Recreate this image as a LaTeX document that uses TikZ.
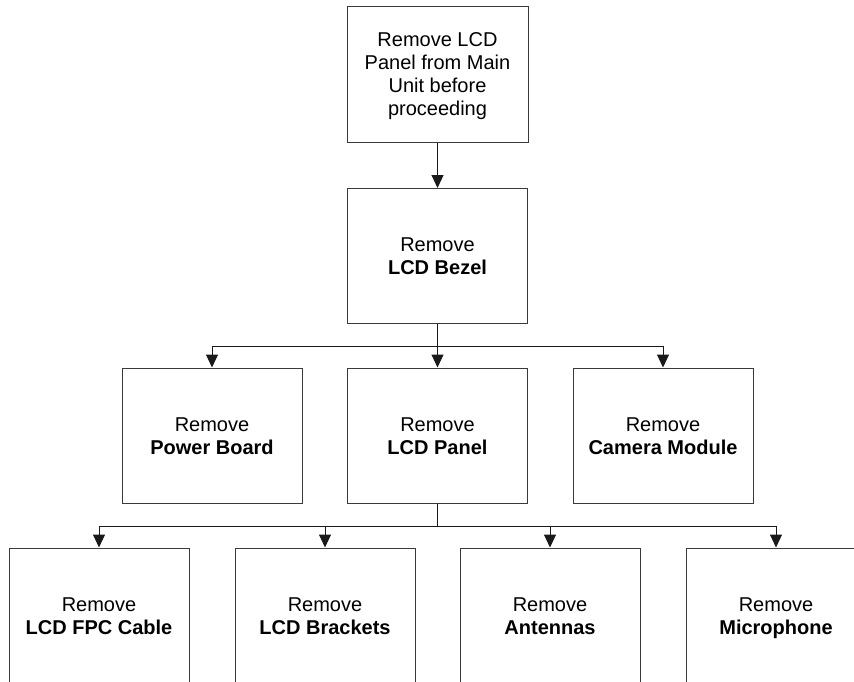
\documentclass[tikz,border=0pt]{standalone}
\usepackage{fontspec}
\setmainfont{Liberation Sans}
\usepackage{tikz}
\usetikzlibrary{arrows.meta,positioning}
\definecolor{boxline}{HTML}{3A3A3A}
\definecolor{linkline}{HTML}{1A1A1A}
\newcommand{\capstrut}{\rule{0pt}{9.4pt}}
\newcommand{\descstrut}{\rule[-2.2pt]{0pt}{2.2pt}}
\tikzset{
  stepbox/.style={rectangle, draw=boxline, fill=white, line width=0.5pt, align=center, font=\fontsize{10}{11.5}\selectfont, minimum width=90pt, minimum height=67.5pt, inner sep=2pt},
  edge/.style={-{Triangle[length=6.5pt, width=6pt]}, line width=0.5pt, draw=linkline},
  busline/.style={line width=0.5pt, draw=linkline}
}

\begin{document}
\begin{tikzpicture}[x=0.5pt, y=-0.5pt]
  \useasboundingbox (0,0) rectangle (854,681);
  \node[stepbox, minimum width=90.5pt, minimum height=68pt] (start) at (437.5,74) {\capstrut Remove LCD\\Panel from Main\\Unit before\\proceeding\descstrut};
  \node[stepbox] (bezel) at (437.5,256) {\capstrut Remove\\\textbf{LCD Bezel}\descstrut};
  \node[stepbox] (power) at (212,435.5) {\capstrut Remove\\\textbf{Power Board}\descstrut};
  \node[stepbox] (panel) at (437.5,435.5) {\capstrut Remove\\\textbf{LCD Panel}\descstrut};
  \node[stepbox] (camera) at (663,435.5) {\capstrut Remove\\\textbf{Camera Module}\descstrut};
  \node[stepbox] (fpc) at (99,615.5) {\capstrut Remove\\\textbf{LCD FPC Cable}\descstrut};
  \node[stepbox] (brackets) at (325,615.5) {\capstrut Remove\\\textbf{LCD Brackets}\descstrut};
  \node[stepbox] (antennas) at (550,615.5) {\capstrut Remove\\\textbf{Antennas}\descstrut};
  \node[stepbox] (mic) at (776,615.5) {\capstrut Remove\\\textbf{Microphone}\descstrut};
  \coordinate (bus1) at (437.5,346);
  \coordinate (bus2) at (437.5,526);
  \draw[edge] (start) -- (bezel);
  % bezel branches
  \draw[busline] (bezel.south) -- (bus1);
  \draw[edge] (bus1) -| (power.north);
  \draw[edge] (bus1) -- (panel.north);
  \draw[edge] (bus1) -| (camera.north);
  % panel branches
  \draw[busline] (panel.south) -- (bus2);
  \draw[edge] (bus2) -| (fpc.north);
  \draw[edge] (bus2) -| (brackets.north);
  \draw[edge] (bus2) -| (antennas.north);
  \draw[edge] (bus2) -| (mic.north);
\end{tikzpicture}
\end{document}
